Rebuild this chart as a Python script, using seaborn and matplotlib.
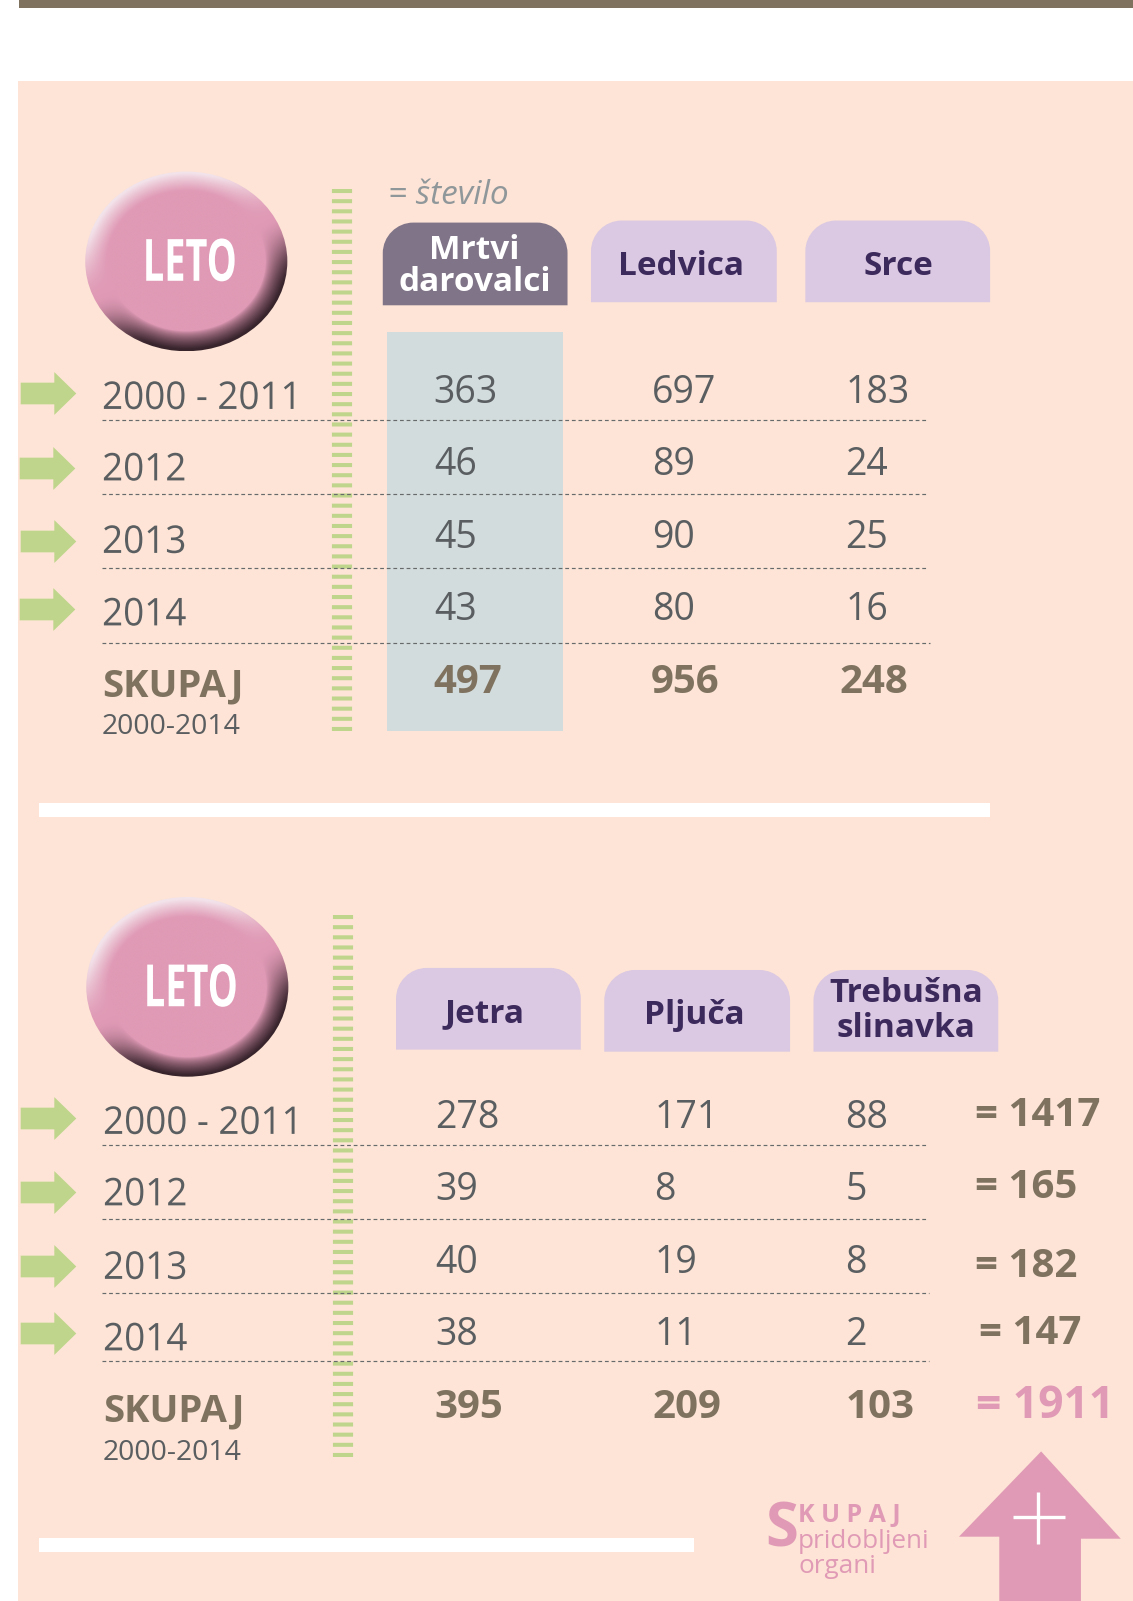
import numpy as np
import pandas as pd
import matplotlib
matplotlib.use("Agg")
import matplotlib.pyplot as plt
import seaborn as sns
from matplotlib.path import Path
from matplotlib.patches import PathPatch, Ellipse, Polygon, Rectangle
from matplotlib.patheffects import AbstractPathEffect
from matplotlib.transforms import Affine2D

# podatki
leta = ['2000 - 2011', '2012', '2013', '2014']
skupaj_label = 'SKUPAJ'
skupaj_sub = '2000-2014'

mrtvi = ['363', '46', '45', '43', '497']
ledvica = ['697', '89', '90', '80', '956']
srce = ['183', '24', '25', '16', '248']
jetra = ['278', '39', '40', '38', '395']
pljuca = ['171', '8', '19', '11', '209']
slinavka = ['88', '5', '8', '2', '103']
vsote = ['= 1417', '= 165', '= 182', '= 147', '= 1911']

ROZA = '#e09ab5'
OZADJE = '#fde4d6'
RJAVA = '#7f7360'
SIVA = '#5a5e60'
ZELENA = '#bfd58b'
VIJOLA = '#dbc8e2'
TEMNA = '#3d2a5c'

sns.set_style('white')
plt.rcParams['font.family'] = ['Open Sans', 'DejaVu Sans']

fig = plt.figure(figsize=(11.33, 16.01), dpi=100, facecolor='white')
ax = fig.add_axes([0, 0, 1, 1])


def okvir():
    ax.set_xlim(0, 1110)
    ax.set_ylim(1568, 0)
    ax.axis('off')


class Stisni(AbstractPathEffect):
    # zoži besedilo vodoravno (ni ožjega fonta)
    def __init__(self, x, f):
        super().__init__()
        self.x = x
        self.f = f

    def draw_path(self, renderer, gc, tpath, affine, rgbFace=None):
        cx = ax.transData.transform((self.x, 0))[0]
        aff = affine + Affine2D().translate(-cx, 0).scale(self.f, 1).translate(cx, 0)
        renderer.draw_path(gc, tpath, aff, rgbFace)


okvir()

ax.add_patch(Rectangle((18, 79.5), 1092, 1489, color=OZADJE, lw=0, zorder=0))
ax.add_patch(Rectangle((18.5, 0), 1092, 8, color=RJAVA, lw=0, zorder=1))
ax.add_patch(Rectangle((38, 786), 932, 14.5, color='white', lw=0, zorder=1))
ax.add_patch(Rectangle((38, 1506), 642, 14, color='white', lw=0, zorder=1))
ax.add_patch(Rectangle((379, 325), 172.5, 391, color='#d3dcdc', lw=0, zorder=1))


def gladko(t):
    t = np.clip(t, 0, 1)
    return t * t * (3 - 2 * t)


def gumb(cx, cy, w, h):
    # senčen gumb z napisom LETO
    n = 500
    xx, yy = np.meshgrid(np.linspace(-1, 1, n), np.linspace(-1, 1, n))
    r = np.sqrt(xx**2 + yy**2)
    rob = np.clip((r - 0.78) / 0.2, 0, 1)
    smer = (xx * 0.45 + yy * 0.89) / np.maximum(r, 1e-6)
    base = np.array(matplotlib.colors.to_rgb(ROZA))
    dark = np.array(matplotlib.colors.to_rgb('#38242c'))
    light = np.array(matplotlib.colors.to_rgb('#f3e3ea'))
    img = np.ones((n, n, 3)) * base
    t_d = gladko((smer + 0.05) / 0.75) * rob**0.7
    t_l = gladko((-smer - 0.05) / 0.75) * rob**1.1
    for i in range(3):
        img[:, :, i] = base[i] + (dark[i] - base[i]) * t_d + (light[i] - base[i]) * t_l
    im = ax.imshow(img, extent=[cx - w / 2, cx + w / 2, cy + h / 2, cy - h / 2], aspect='auto', zorder=2)
    clip = Ellipse((cx, cy), w, h, transform=ax.transData, fc='none', ec='none')
    ax.add_patch(clip)
    im.set_clip_path(clip)
    ax.text(cx + 3.5, cy + 19, 'LETO', color='white', fontsize=42, fontweight='bold',
            ha='center', va='baseline', zorder=3, path_effects=[Stisni(cx + 3.5, 0.65)])


gumb(182.5, 256, 198, 176)
gumb(183.5, 966.5, 198, 176)
okvir()


def zavihek(x0, y0, x1, y1, barva, rr=30):
    k = 0.55 * rr
    v = [(x0, y1), (x0, y0 + rr), (x0, y0 + rr - k), (x0 + rr - k, y0), (x0 + rr, y0),
         (x1 - rr, y0), (x1 - rr + k, y0), (x1, y0 + rr - k), (x1, y0 + rr), (x1, y1), (x0, y1)]
    c = [Path.MOVETO, Path.LINETO, Path.CURVE4, Path.CURVE4, Path.CURVE4,
         Path.LINETO, Path.CURVE4, Path.CURVE4, Path.CURVE4, Path.LINETO, Path.CLOSEPOLY]
    ax.add_patch(PathPatch(Path(v, c), fc=barva, ec='none', zorder=2))


zavihek(375, 218, 556, 299, '#807488')
zavihek(579, 216, 761, 296, VIJOLA)
zavihek(789, 216, 970, 296, VIJOLA)
zavihek(388, 948, 569, 1028, VIJOLA)
zavihek(592, 950, 774, 1030, VIJOLA)
zavihek(797, 950, 978, 1030, VIJOLA)

naslov = dict(fontsize=24, fontweight='bold', ha='center', va='center', zorder=3)
ax.text(465, 261, 'Mrtvi\ndarovalci', color='white', linespacing=0.95, **naslov)
ax.text(667, 261, 'Ledvica', color=TEMNA, **naslov)
ax.text(880, 261, 'Srce', color=TEMNA, **naslov)
ax.text(475, 993, 'Jetra', color=TEMNA, **naslov)
ax.text(680, 995, 'Pljuča', color=TEMNA, **naslov)
ax.text(888, 990, 'Trebušna\nslinavka', color=TEMNA, linespacing=1.09, **naslov)
ax.text(380, 200, '= število', color='#90979a', fontsize=24, style='italic', va='baseline', zorder=3)

# zelene črtice
crtice = pd.DataFrame({'x': [335, 335], 'y': [185, 717]})
crtice2 = pd.DataFrame({'x': [336, 336], 'y': [896, 1427]})
for d in (crtice, crtice2):
    l = sns.lineplot(data=d, x='x', y='y', ax=ax, color=ZELENA, lw=14.5, sort=False, estimator=None, zorder=2)
    ln = l.lines[-1]
    ln.set_solid_capstyle('butt')
    ln.set_dashes((0.2, 0.304))

# pikčaste črte
for y, x1 in [(411, 908), (484, 908), (556, 909), (630, 911), (1121, 909), (1194, 909), (1266, 910), (1333, 910)]:
    ax.plot([100, x1], [y, y], color='#666a6b', lw=0.85, dashes=(3.2, 2.4), zorder=4)

# zelene puščice
puscica = Path([(-1, 0.39), (0.21, 0.39), (0.21, 0.77), (1, 0), (0.21, -0.77), (0.21, -0.39), (-1, -0.39), (-1, 0.39)],
               [Path.MOVETO] + [Path.LINETO] * 6 + [Path.CLOSEPOLY])
pusc = pd.DataFrame({'x': [47, 46, 47, 46, 47, 47, 47, 47],
                     'y': [385, 458, 530, 596, 1095, 1167, 1240, 1306]})
sns.scatterplot(data=pusc, x='x', y='y', ax=ax, marker=puscica, s=1600, color=ZELENA, linewidth=0, zorder=3)
okvir()
ax.set_xlabel('')
ax.set_ylabel('')

# leta
for lab, y1, y2 in zip(leta, [400.5, 470.5, 541.5, 612.5], [1110.5, 1180.5, 1252.5, 1322.5]):
    ax.text(100, y1, lab, color=SIVA, fontsize=27.5, va='baseline', zorder=5, path_effects=[Stisni(100, 0.965)])
    ax.text(101, y2, lab, color=SIVA, fontsize=27.5, va='baseline', zorder=5, path_effects=[Stisni(101, 0.965)])
for x, y1, y2 in [(100, 682, 719), (101, 1392, 1430)]:
    ax.text(x, y1, skupaj_label, color=RJAVA, fontsize=27.5, fontweight='bold', va='baseline', zorder=5)
    ax.text(x, y2, skupaj_sub, color=SIVA, fontsize=20.4, va='baseline', zorder=5)

# vrednosti
vrste1 = [394.5, 465.5, 536.5, 607, 679]
vrste2 = [1104.5, 1175.5, 1246.5, 1317.5, 1389]
stolpci = [(mrtvi, 425, 425, vrste1), (ledvica, 639, 638, vrste1), (srce, 828, 822, vrste1),
           (jetra, 426, 426, vrste2), (pljuca, 641, 639, vrste2), (slinavka, 828, 828, vrste2)]
for vals, x, xb, vrste in stolpci:
    for i, (v, y) in enumerate(zip(vals, vrste)):
        if i == 4:
            ax.text(xb, y, v, color=RJAVA, fontsize=29, fontweight='bold', va='baseline', zorder=5)
        else:
            ax.text(x, y, v, color=SIVA, fontsize=27, va='baseline', zorder=5)

for v, x, y, fs, c in zip(vsote, [955, 955, 955, 959, 956], [1103, 1173, 1251, 1316, 1389],
                          [29, 29, 29, 29, 32], [RJAVA, RJAVA, RJAVA, RJAVA, ROZA]):
    ax.text(x, y, v, color=c, fontsize=fs, fontweight='bold', va='baseline', zorder=5)

# skupaj pridobljeni organi
ax.text(750, 1515, 'S', color=ROZA, fontsize=43, fontweight='bold', va='baseline', zorder=5)
ax.text(782, 1491, 'K U P A J', color=ROZA, fontsize=18, fontweight='bold', va='baseline', zorder=5)
ax.text(782, 1516, 'pridobljeni', color=ROZA, fontsize=18.8, va='baseline', zorder=5)
ax.text(782, 1541, 'organi', color=ROZA, fontsize=18.8, va='baseline', zorder=5)

# velika puščica
ax.add_patch(Polygon([(1020, 1421.5), (1098, 1507), (1059, 1507), (1059, 1568), (979, 1568), (979, 1505), (939.5, 1505)],
                     closed=True, fc=ROZA, ec='none', zorder=3))
ax.plot([992, 1043], [1486, 1486], color='white', lw=2.4, zorder=4, solid_capstyle='butt')
ax.plot([1017, 1017], [1461, 1512], color='white', lw=2.4, zorder=4, solid_capstyle='butt')

okvir()
fig.savefig('out.png', dpi=100)
